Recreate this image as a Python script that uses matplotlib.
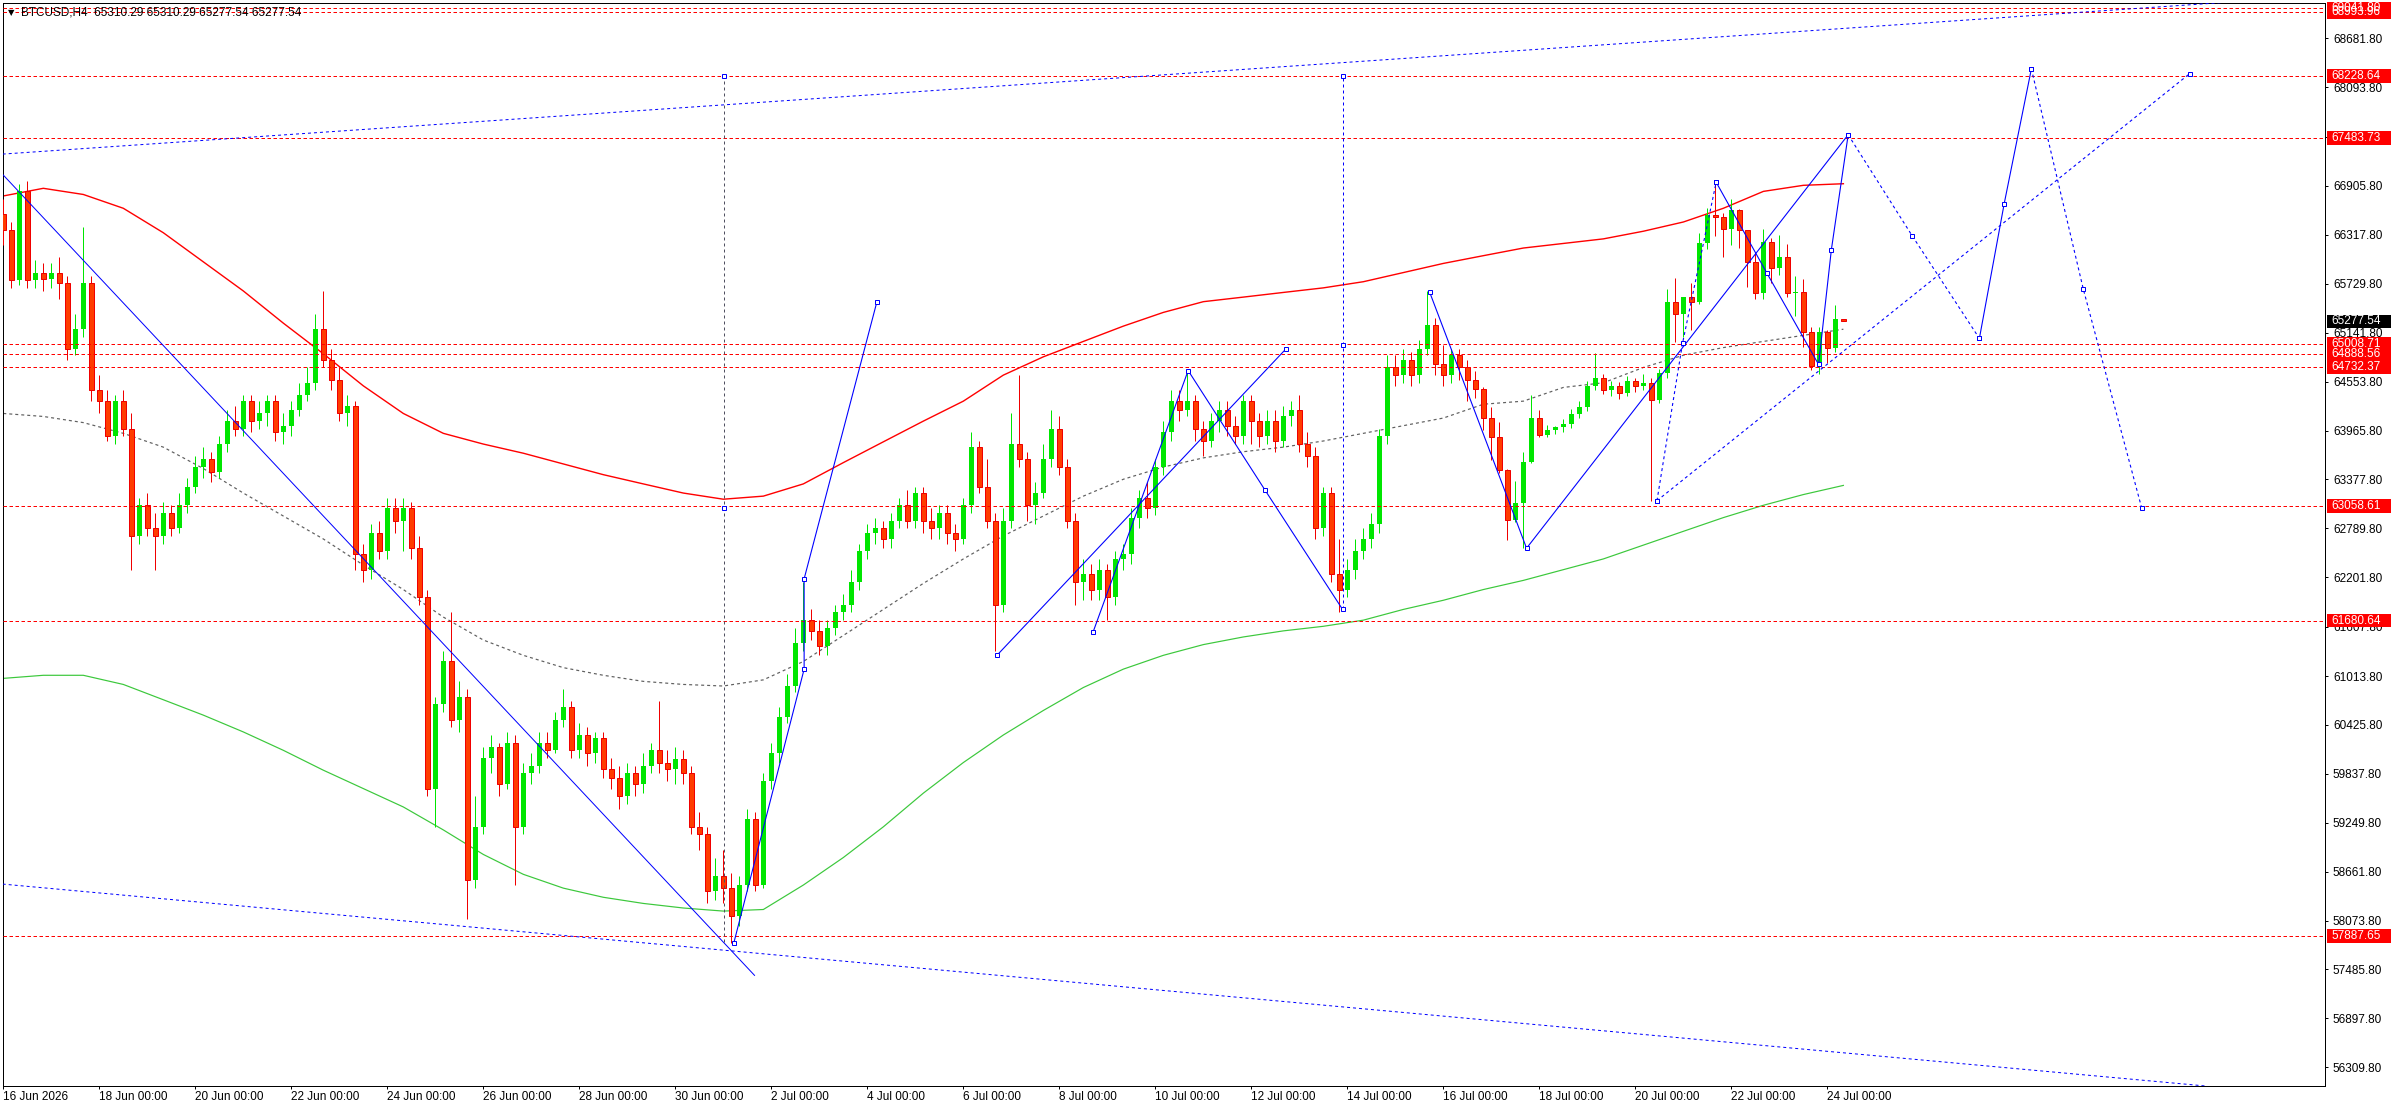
import matplotlib
matplotlib.use('Agg')
import matplotlib.pyplot as plt
import matplotlib.transforms as mtransforms
from matplotlib.patches import Rectangle
import numpy as np

plt.rcParams['font.family'] = ['Liberation Sans', 'DejaVu Sans']
plt.rcParams['lines.scale_dashes'] = False

# ---------------- data (H4 bars, bar 0 = 16 Jun 2026 00:00) ----------------
first_open = 66565
close = [
    66380, 65773, 66841, 65773, 65865, 65791, 65865, 65736, 64944, 65184,
    65736, 64448, 64319, 63895, 64319, 63987, 62699, 63067, 62791, 62699,
    62975, 62791, 63067, 63288, 63527, 63619, 63472, 63803, 64079, 63987,
    64319, 64079, 64171, 64319, 63950, 64024, 64208, 64392, 64540, 65184,
    64816, 64577, 64171, 64264, 62478, 62293, 62735, 62515, 63030, 62883,
    63030, 62551, 61962, 59661, 60673, 61189, 60489, 60766, 58556, 59201,
    60029, 60158, 59716, 60213, 59201, 59845, 59937, 60213, 60121, 60489,
    60637, 60121, 60305, 60084, 60268, 59900, 59790, 59569, 59845, 59716,
    59937, 60121, 59974, 59900, 60011, 59845, 59201, 59109, 58428, 58612,
    58464, 58133, 58501, 59293, 58501, 59753, 60084, 60526, 60894, 61410,
    61686, 61557, 61373, 61594, 61778, 61870, 62146, 62515, 62735, 62791,
    62662, 62883, 63067, 62883, 63214, 62883, 62791, 62975, 62735, 62662,
    63067, 63766, 63288, 62883, 61870, 62883, 63803, 63619, 63067, 63214,
    63619, 63987, 63527, 62883, 62146, 62238, 62054, 62293, 61962, 62422,
    62478, 62919, 63159, 63030, 63527, 63950, 64319, 64208, 64319, 63987,
    63840, 64079, 64208, 64024, 63895, 64319, 64079, 63895, 64079, 63840,
    64135, 64208, 63803, 63656, 62791, 63214, 62238, 62054, 62293, 62515,
    62662, 62846, 63895, 64724, 64632, 64816, 64632, 64944, 65239, 64760,
    64632, 64871, 64724, 64577, 64466, 64113, 63884, 63491, 62890, 63091,
    63592, 64113, 63912, 63972, 64004, 64050, 64170, 64250, 64500, 64600,
    64450, 64500, 64420, 64560, 64500, 64533, 64330, 64654, 65507, 65363,
    65571, 65515, 66217, 66557, 66537, 66393, 66617, 66373, 65992, 65624,
    66233, 65916, 66048, 65616, 65628, 65155, 64742, 65155, 64962, 65310.29,
    65277.54]
high = [
    66749, 66473, 66933, 66970, 66012, 65975, 65975, 66049, 65828, 65368,
    66417, 65828, 64632, 64448, 64392, 64448, 64171, 63159, 63214, 62975,
    63104, 63067, 63214, 63398, 63656, 63766, 63711, 63895, 64208, 64264,
    64392, 64392, 64319, 64392, 64392, 64171, 64319, 64540, 64724, 65368,
    65644, 64944, 64724, 64392, 64319, 62607, 62846, 62883, 63159, 63159,
    63159, 63104, 62699, 62054, 60766, 61318, 61778, 60950, 60858, 59569,
    60158, 60305, 60213, 60342, 60305, 59974, 60084, 60342, 60342, 60581,
    60858, 60710, 60453, 60397, 60342, 60342, 60029, 59937, 59974, 59937,
    60084, 60213, 60710, 60121, 60158, 60121, 59937, 59385, 59201, 58832,
    58925, 58649, 58612, 59421, 59385, 59845, 60213, 60637, 61042, 61594,
    62146, 61815, 61686, 61686, 61870, 61999, 62293, 62607, 62846, 62919,
    62883, 62975, 63159, 63251, 63288, 63288, 63030, 63067, 63067, 62846,
    63159, 63950, 63840, 63619, 62975, 63030, 64171, 64632, 63711, 63343,
    63803, 64208, 64135, 63619, 62975, 62422, 62367, 62422, 62367, 62515,
    62607, 63030, 63251, 63343, 63619, 64079, 64448, 64448, 64687, 64392,
    64079, 64171, 64319, 64319, 64135, 64392, 64392, 64171, 64208, 64208,
    64264, 64319, 64392, 63950, 63766, 63288, 63288, 62662, 62422, 62662,
    62791, 62975, 63987, 64871, 64871, 64944, 64908, 65055, 65644, 65313,
    65000, 64944, 64944, 64816, 64687, 64490, 64253, 64073, 63500, 63359,
    63712, 64393, 64213, 64033, 64020, 64100, 64220, 64320, 64560, 64900,
    64650, 64560, 64550, 64620, 64600, 64640, 64600, 64700, 65663, 65796,
    65575, 65736, 66345, 66637, 66938, 66577, 66746, 66625, 66373, 66096,
    66385, 66277, 66313, 66205, 65824, 65784, 65215, 65215, 65175, 65475,
    65310.29]
low = [
    66196, 65681, 65718, 65681, 65681, 65644, 65681, 65552, 64816, 64871,
    65092, 64319, 64171, 63840, 63803, 63895, 62293, 62607, 62699, 62293,
    62607, 62699, 62735, 62975, 63214, 63398, 63343, 63398, 63711, 63895,
    63895, 63950, 63987, 64024, 63840, 63803, 63895, 64135, 64319, 64448,
    64724, 64448, 64079, 64024, 62293, 62146, 62183, 62422, 62422, 62735,
    62515, 62422, 61870, 59569, 59201, 60581, 60397, 60342, 58096, 58464,
    59109, 59845, 59569, 59661, 58501, 59109, 59716, 59845, 60029, 60084,
    60397, 60029, 60029, 59937, 59974, 59790, 59661, 59421, 59477, 59569,
    59606, 59845, 59845, 59753, 59716, 59716, 59109, 58925, 58280, 58317,
    58280, 57801, 58004, 58428, 58428, 58464, 59661, 59974, 60452, 60821,
    61318, 61447, 61263, 61263, 61502, 61686, 61778, 62054, 62422, 62607,
    62551, 62551, 62791, 62791, 62791, 62735, 62662, 62662, 62607, 62515,
    62607, 62975, 63214, 62791, 61318, 61778, 62791, 63527, 62883, 62846,
    63159, 63527, 63435, 62791, 61870, 61925, 61925, 61925, 61686, 61870,
    62293, 62367, 62791, 62919, 62956, 63435, 63840, 64079, 64135, 63840,
    63656, 63766, 63950, 63895, 63803, 63803, 63803, 63766, 63803, 63711,
    63766, 64024, 63711, 63527, 62662, 62699, 62146, 61778, 61962, 62183,
    62422, 62551, 62735, 63803, 64503, 64540, 64503, 64540, 64871, 64632,
    64503, 64540, 64577, 64319, 64356, 63972, 63612, 63450, 62650, 62870,
    62550, 63570, 63884, 63884, 63924, 63950, 64000, 64120, 64200, 64450,
    64400, 64380, 64350, 64380, 64430, 64450, 63120, 64300, 64600, 65034,
    65094, 65175, 65483, 66144, 66309, 66048, 66197, 66164, 65696, 65551,
    65551, 65736, 65836, 65575, 65347, 64974, 64694, 64642, 64774, 64914,
    65277.54]

# Bollinger-type envelope, sampled every 5 bars
band_bars = list(range(0, 231, 5))
upper_band = [66786, 66878, 66804, 66638, 66344, 65994, 65644, 65257, 64889, 64503,
              64171, 63932, 63803, 63693, 63564, 63435, 63324, 63214, 63140, 63177,
              63324, 63580, 63830, 64079, 64319, 64632, 64852, 65037, 65221, 65386,
              65515, 65570, 65626, 65681, 65755, 65865, 65975, 66068, 66160, 66215,
              66270, 66362, 66473, 66638, 66841, 66914, 66933]
middle_band = [64171, 64135, 64061, 63932, 63766, 63509, 63214, 62938, 62662, 62349,
               62054, 61723, 61447, 61263, 61115, 61023, 60950, 60913, 60894, 60968,
               61189, 61502, 61815, 62128, 62422, 62699, 62938, 63177, 63380, 63527,
               63637, 63711, 63766, 63840, 63932, 64024, 64116, 64282, 64319, 64484,
               64540, 64724, 64871, 64963, 65037, 65110, 65184]
lower_band = [60986, 61023, 61023, 60913, 60729, 60544, 60342, 60121, 59882, 59661,
              59440, 59164, 58869, 58630, 58464, 58354, 58280, 58225, 58188, 58207,
              58501, 58832, 59201, 59606, 59974, 60305, 60600, 60876, 61097, 61263,
              61392, 61484, 61557, 61612, 61686, 61815, 61925, 62054, 62164, 62293,
              62422, 62588, 62754, 62919, 63067, 63196, 63306]

# horizontal levels
levels = [69041.80, 68993.96, 68228.64, 67483.73, 65008.71, 64888.56, 64732.37,
          63058.61, 61680.64, 57887.65]
current_price = 65277.54

# right-axis tick values
price_ticks = [68681.80, 68093.80, 67499.80, 66905.80, 66317.80, 65729.80, 65141.80,
               64553.80, 63965.80, 63377.80, 62789.80, 62201.80, 61607.80, 61013.80,
               60425.80, 59837.80, 59249.80, 58661.80, 58073.80, 57485.80, 56897.80,
               56309.80]
date_tick_bars = list(range(0, 229, 12))
date_tick_labels = ['16 Jun 2026', '18 Jun 00:00', '20 Jun 00:00', '22 Jun 00:00',
                    '24 Jun 00:00', '26 Jun 00:00', '28 Jun 00:00', '30 Jun 00:00',
                    '2 Jul 00:00', '4 Jul 00:00', '6 Jul 00:00', '8 Jul 00:00',
                    '10 Jul 00:00', '12 Jul 00:00', '14 Jul 00:00', '16 Jul 00:00',
                    '18 Jul 00:00', '20 Jul 00:00', '22 Jul 00:00', '24 Jul 00:00']

# drawing objects (bar index, price)
upper_channel = [(0, 67290), (191, 68544)]
lower_channel = [(0, 58512), (185, 56881)]
down_trend_bars = [-0.42, 93.9]
down_trend_prices = [67080, 57415]
vert_grey = (90.1, 57820, 68228)
vert_blue = (167.4, 61815, 68228)
leg_c_bars = [91.3, 100.1, 100.1, 109.2]
leg_c_prices = [57801, 61097, 62183, 65515]
line_b_bars = [124.2, 160.3]
line_b_prices = [61263, 64945]
zig_a_bars = [136.2, 148.1, 157.7, 167.4]
zig_a_prices = [61539, 64687, 63251, 61815]
zig_d_bars = [178.3, 190.4, 230.6]
zig_d_prices = [65626, 62551, 67522]
zig_e_bars = [214.1, 220.4, 226.9, 228.5, 230.6]
zig_e_prices = [66951, 65865, 64760, 66141, 67522]
proj1_bars = [230.6, 238.6, 247.0]
proj1_prices = [67522, 66307, 65073]
proj2_bars = [247.0, 250.1, 253.5]
proj2_prices = [65073, 66693, 68314]
proj3_bars = [253.5, 260.0, 267.3]
proj3_prices = [68314, 65662, 63030]
dash_f_bars = [206.7, 209.9, 214.1]
dash_f_prices = [63122, 65018, 66951]
dash_g_bars = [206.7, 273.3]
dash_g_prices = [63122, 68258]
vert_marks = [(90.1, 68228), (90.1, 63030), (167.4, 68228), (167.4, 65000)]

# ---------------- layout ----------------
W, H, DPI = 2396, 1110, 100
PX = 72.0 / DPI
AX_L, AX_R, AX_T, AX_B = 2.7, 2325.0, 2.5, 1086.0
Y_TOP, Y_BOT = 69112.0, 56085.0
X_MIN, X_MAX = -0.075, 290.2
DPP = (Y_TOP - Y_BOT) / (AX_B - AX_T)   # price per pixel

fig = plt.figure(figsize=(W / DPI, H / DPI), dpi=DPI)
fig.patch.set_facecolor('white')
ax = fig.add_axes([AX_L / W, (H - AX_B) / H, (AX_R - AX_L) / W, (AX_B - AX_T) / H])
ax.set_facecolor('white')
ax.set_xlim(X_MIN, X_MAX)
ax.set_ylim(Y_BOT, Y_TOP)

GREEN = '#00E600'
BEAR_FILL = '#FF3C00'
BEAR_EDGE = '#F00000'
BLUE = '#0000FF'
RED = '#FF0000'

o = np.array([first_open] + close[:-1], dtype=float)
c = np.array(close, dtype=float)
h = np.maximum(np.array(high, dtype=float), np.maximum(o, c))
l = np.minimum(np.array(low, dtype=float), np.minimum(o, c))
x = np.arange(len(c))
bull = c >= o
bear = ~bull
minh = 1.0 * DPP

# Bands
ax.plot(band_bars, upper_band, color='#FF0000', lw=1.4 * PX, zorder=2)
ax.plot(band_bars, lower_band, color='#3CC83C', lw=1.2 * PX, zorder=2)
ax.plot(band_bars, middle_band, color='#606060', lw=1.2 * PX,
        ls=(0, (3 * PX, 3 * PX)), zorder=2)

# Candles
ax.vlines(x[bull], l[bull], h[bull], color=GREEN, lw=1.0 * PX, zorder=3)
ax.vlines(x[bear], l[bear], h[bear], color=BEAR_EDGE, lw=1.0 * PX, zorder=3)
ax.bar(x[bull], np.maximum(c[bull] - o[bull], minh), bottom=o[bull], width=0.62,
       color=GREEN, lw=0, zorder=4)
ax.bar(x[bear], np.maximum(o[bear] - c[bear], minh), bottom=c[bear], width=0.56,
       facecolor=BEAR_FILL, edgecolor=BEAR_EDGE, lw=1.0 * PX, zorder=4)

# Levels
RDASH = (0, (3.5 * PX, 2.5 * PX))
for lv in levels:
    ax.axhline(lv, color=RED, lw=1.0 * PX, ls=RDASH, zorder=5)

# Drawings
BDOT = (0, (3 * PX, 3 * PX))
ax.axline(upper_channel[0], upper_channel[1], color=BLUE, lw=1.0 * PX, ls=BDOT, zorder=5)
ax.axline(lower_channel[0], lower_channel[1], color=BLUE, lw=1.0 * PX, ls=BDOT, zorder=5)
ax.plot(down_trend_bars, down_trend_prices, color=BLUE, lw=1.0 * PX, zorder=5)
ax.plot([vert_grey[0]] * 2, vert_grey[1:], color='#505060', lw=1.0 * PX, ls=BDOT, zorder=5)
ax.plot([vert_blue[0]] * 2, vert_blue[1:], color=BLUE, lw=1.0 * PX, ls=BDOT, zorder=5)

solid_sets = [(leg_c_bars, leg_c_prices), (line_b_bars, line_b_prices),
              (zig_a_bars, zig_a_prices), (zig_d_bars, zig_d_prices),
              (zig_e_bars, zig_e_prices), (proj2_bars, proj2_prices)]
dashed_sets = [(proj1_bars, proj1_prices), (proj3_bars, proj3_prices),
               (dash_f_bars, dash_f_prices), (dash_g_bars, dash_g_prices)]
for bx, by in solid_sets:
    ax.plot(bx, by, color=BLUE, lw=1.1 * PX, zorder=6)
for bx, by in dashed_sets:
    ax.plot(bx, by, color=BLUE, lw=1.1 * PX, ls=BDOT, zorder=6)

mk = dict(marker='s', ms=4.3 * PX, mfc='white', mec=BLUE, mew=1.0 * PX, ls='none', zorder=7)
for bx, by in solid_sets + dashed_sets:
    ax.plot(bx, by, **mk)
ax.plot([m[0] for m in vert_marks], [m[1] for m in vert_marks], **mk)

# Axes styling
for sp in ax.spines.values():
    sp.set_color('black')
    sp.set_linewidth(1.0 * PX)
ax.yaxis.tick_right()
ax.set_yticks(price_ticks)
ax.set_yticklabels(['%.2f' % v for v in price_ticks])
ax.tick_params(axis='y', length=2.5, width=1.0 * PX, pad=3.2, labelsize=8.5,
               colors='black', direction='out')
ax.set_xticks(date_tick_bars)
ax.set_xticklabels(date_tick_labels, ha='left')
ax.tick_params(axis='x', length=3.3 * PX, width=1.0 * PX, pad=1.2, labelsize=8.5,
               colors='black', direction='out')

# Price boxes on the right axis
trans = mtransforms.blended_transform_factory(ax.transAxes, ax.transData)
axw = AX_R - AX_L
box_x0 = (2327 - AX_L) / axw
box_w = 64.0 / axw
txt_x = (2331.0 - AX_L) / axw
box_h = 13.5 * DPP


def price_box(val, fc):
    ax.add_patch(Rectangle((box_x0, val - box_h / 2), box_w, box_h, transform=trans,
                           facecolor=fc, edgecolor='none', clip_on=False, zorder=8))
    ax.text(txt_x, val, '%.2f' % val, transform=trans, ha='left', va='center',
            color='white', fontsize=8.5, clip_on=False, zorder=9)


for lv in sorted(levels, reverse=True):
    price_box(lv, RED)
price_box(current_price, 'black')

# Header
ax.text((11 - AX_L) / axw, 1 - 10.0 / (AX_B - AX_T), '\u25bc', transform=ax.transAxes,
        ha='center', va='center', fontsize=6, family=['DejaVu Sans'], color='black',
        zorder=9)
ax.text((21 - AX_L) / axw, 1 - 10.0 / (AX_B - AX_T),
        'BTCUSD,H4  65310.29 65310.29 65277.54 65277.54', transform=ax.transAxes,
        ha='left', va='center', fontsize=8.5, color='black', zorder=9)

fig.savefig('out.png', dpi=DPI, facecolor='white')
